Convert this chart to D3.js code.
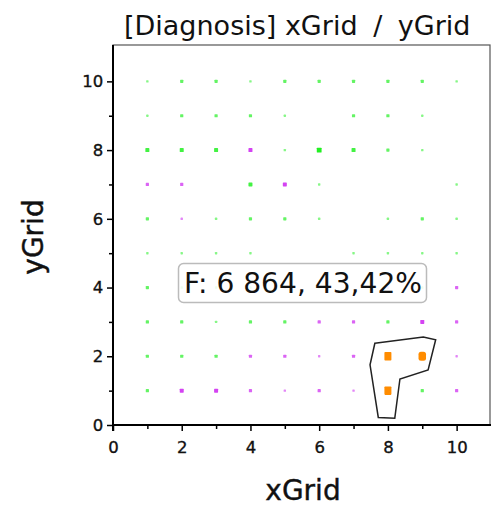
<!DOCTYPE html>
<html>
<head>
<meta charset="utf-8">
<script src="https://cdn.jsdelivr.net/npm/d3@7/dist/d3.min.js"></script>
<style>
  html, body { margin: 0; padding: 0; background: #fff; }
  svg { display: block; font-family: "DejaVu Sans", Verdana, sans-serif; }
</style>
</head>
<body>
<svg id="chart" width="491" height="508"></svg>
<script>
// Grid cells, listed row by row from yGrid = 10 down to 1
const xGrid = [1,2,3,4,5,6,7,8,9,10, 1,2,3,4,5,7,8,9, 1,2,3,4,5,6,7,8,9, 1,2,4,5,6,10,
               1,2,3,4,5,6,8,9,10, 1,2,3,4,7,8,9,10, 1,2,3,4,5,6,8,9,10,
               1,2,3,4,5,6,7,8,9,10, 1,2,3,4,5,6,7,8,9,10, 1,2,3,4,5,6,7,8,9,10];
const yGrid = [10,10,10,10,10,10,10,10,10,10, 9,9,9,9,9,9,9,9, 8,8,8,8,8,8,8,8,8, 7,7,7,7,7,7,
               6,6,6,6,6,6,6,6,6, 5,5,5,5,5,5,5,5, 4,4,4,4,4,4,4,4,4,
               3,3,3,3,3,3,3,3,3,3, 2,2,2,2,2,2,2,2,2,2, 1,1,1,1,1,1,1,1,1,1];
// Class of each cell: g = first group, m = second group, s = selected
const cellClass = ["g","g","g","g","g","g","g","g","g","g", "g","g","g","g","g","g","g","g",
                   "g","g","g","m","g","g","g","g","g", "m","m","g","m","g","g",
                   "g","m","g","g","g","g","g","g","g", "g","g","g","g","g","g","g","g",
                   "g","g","g","g","m","g","m","g","m",
                   "g","g","g","g","g","m","m","g","m","m",
                   "g","g","g","m","m","m","m","s","s","m",
                   "g","m","m","m","m","m","m","s","g","m"];
// Relative weight of each cell (1 = few, 4 = many)
const cellWeight = [1,2,2,1,2,2,2,2,2,1, 1,2,2,2,1,2,2,1, 3,3,3,3,1,4,3,2,1, 2,2,3,3,1,1,
                    2,1,1,2,2,1,1,2,1, 1,1,1,1,1,1,1,1, 2,1,1,1,1,1,1,1,2,
                    2,2,1,2,2,2,2,2,3,2, 2,2,2,2,2,1,2,3,4,1, 2,3,3,2,1,2,1,3,2,2];
// Lasso outline drawn around the selected cells (xGrid, yGrid)
const lassoX = [7.62, 9.03, 9.39, 9.17, 8.35, 8.20, 7.72, 7.48];
const lassoY = [2.38, 2.56, 2.48, 1.60, 1.34, 0.20, 0.22, 1.75];
const xTicks = [0,1,2,3,4,5,6,7,8,9,10];
const yTicks = [0,1,2,3,4,5,6,7,8,9,10];
const titleParts = ["[Diagnosis] xGrid", " /", " yGrid"];
const xLabel = "xGrid";
const yLabel = "yGrid";
const infoText = "F: 6 864, 43,42%";

const svg = d3.select("#chart");
const pLeft = 113, pRight = 491, pTop = 47, pBottom = 425;

const x = d3.scaleLinear().domain([0, 11]).range([pLeft, pRight]);
const y = d3.scaleLinear().domain([0, 11]).range([pBottom, pTop]);

const colors = { g: "#22f022", m: "#cc22f0", s: "#ff8c00" };

// frame
svg.append("rect")
  .attr("x", pLeft).attr("y", pTop - 2)
  .attr("width", pRight - pLeft - 1).attr("height", pBottom - pTop + 2)
  .attr("fill", "none").attr("stroke", "#555").attr("stroke-width", 1.2);

// title, with the separator set apart by wider gaps
const title = svg.append("text")
  .attr("x", 124).attr("y", 35)
  .attr("font-size", 27)
  .attr("fill", "#111");
title.selectAll("tspan")
  .data(titleParts)
  .join("tspan")
  .attr("dx", (d, i) => i === 0 ? 0 : 7)
  .text(d => d);

// points
const cellSize = w => 1.6 + w * 0.8;
const cells = xGrid.map((d, i) => ({ x: d, y: yGrid[i], c: cellClass[i], w: cellWeight[i] }));
const plot = svg.append("g");
plot.selectAll("rect.cell")
  .data(cells.filter(d => d.c !== "s"))
  .join("rect")
  .attr("class", "cell")
  .attr("x", d => x(d.x) - cellSize(d.w) / 2)
  .attr("y", d => y(d.y) - cellSize(d.w) / 2)
  .attr("width", d => cellSize(d.w))
  .attr("height", d => cellSize(d.w))
  .attr("rx", 0.6)
  .attr("fill", d => colors[d.c])
  .attr("opacity", d => 0.4 + d.w * 0.15);

plot.selectAll("rect.sel")
  .data(cells.filter(d => d.c === "s"))
  .join("rect")
  .attr("class", "sel")
  .attr("x", d => x(d.x) - (5.5 + d.w * 0.5) / 2)
  .attr("y", d => y(d.y) - (7 + d.w * 0.5) / 2)
  .attr("width", d => 5.5 + d.w * 0.5)
  .attr("height", d => 7 + d.w * 0.5)
  .attr("rx", d => d.w > 3 ? 2.5 : 0.8)
  .attr("fill", colors.s);

// lasso
const lassoPts = lassoX.map((d, i) => [x(d), y(lassoY[i])]);
svg.append("path")
  .attr("d", d3.line().curve(d3.curveLinearClosed)(lassoPts))
  .attr("fill", "none").attr("stroke", "#222").attr("stroke-width", 1.5);

// axes
const xAxis = svg.append("g").attr("transform", `translate(0,${pBottom})`)
  .call(d3.axisBottom(x).tickValues(xTicks).tickSize(6)
    .tickFormat(d => d % 2 === 0 ? d : ""));
const yAxis = svg.append("g").attr("transform", `translate(${pLeft},0)`)
  .call(d3.axisLeft(y).tickValues(yTicks).tickSize(6)
    .tickFormat(d => d % 2 === 0 ? d : ""));

[xAxis, yAxis].forEach(a => {
  a.select(".domain").attr("stroke", "#000").attr("stroke-width", 2);
  a.selectAll(".tick line").attr("stroke", "#000").attr("stroke-width", 1.5);
  a.selectAll(".tick text").attr("font-size", 16.5).attr("fill", "#111")
    .attr("stroke", "#111").attr("stroke-width", 0.35)
    .attr("font-family", "DejaVu Sans, sans-serif");
});
xAxis.selectAll(".tick").filter(d => d % 2 === 1).select("line").attr("y2", 4);
yAxis.selectAll(".tick").filter(d => d % 2 === 1).select("line").attr("x2", -4);
xAxis.selectAll(".tick text").attr("dy", "1.15em");
yAxis.selectAll(".tick text").attr("dx", "-0.05em");
xAxis.select(".domain").attr("d", `M${pLeft},0H${pRight}`);
yAxis.select(".domain").attr("d", `M0,${pBottom + 6}V${pTop - 2}`);

// axis titles
svg.append("text")
  .attr("x", 303).attr("y", 500)
  .attr("text-anchor", "middle")
  .attr("font-size", 28).attr("fill", "#111")
  .attr("stroke", "#111").attr("stroke-width", 0.4)
  .text(xLabel);
svg.append("text")
  .attr("transform", "translate(43,237) rotate(-90)")
  .attr("text-anchor", "middle")
  .attr("font-size", 28).attr("fill", "#111")
  .attr("stroke", "#111").attr("stroke-width", 0.4)
  .text(yLabel);

// info label
const info = svg.append("g");
info.append("rect")
  .attr("x", 178.5).attr("y", 263.5)
  .attr("width", 248).attr("height", 39)
  .attr("rx", 5)
  .attr("fill", "#fff").attr("fill-opacity", 0.85)
  .attr("stroke", "#bbb").attr("stroke-width", 1.5);
info.append("text")
  .attr("x", 303).attr("y", 293)
  .attr("text-anchor", "middle")
  .attr("font-size", 28).attr("fill", "#111")
  .attr("textLength", 238).attr("lengthAdjust", "spacingAndGlyphs")
  .text(infoText);
</script>
</body>
</html>
